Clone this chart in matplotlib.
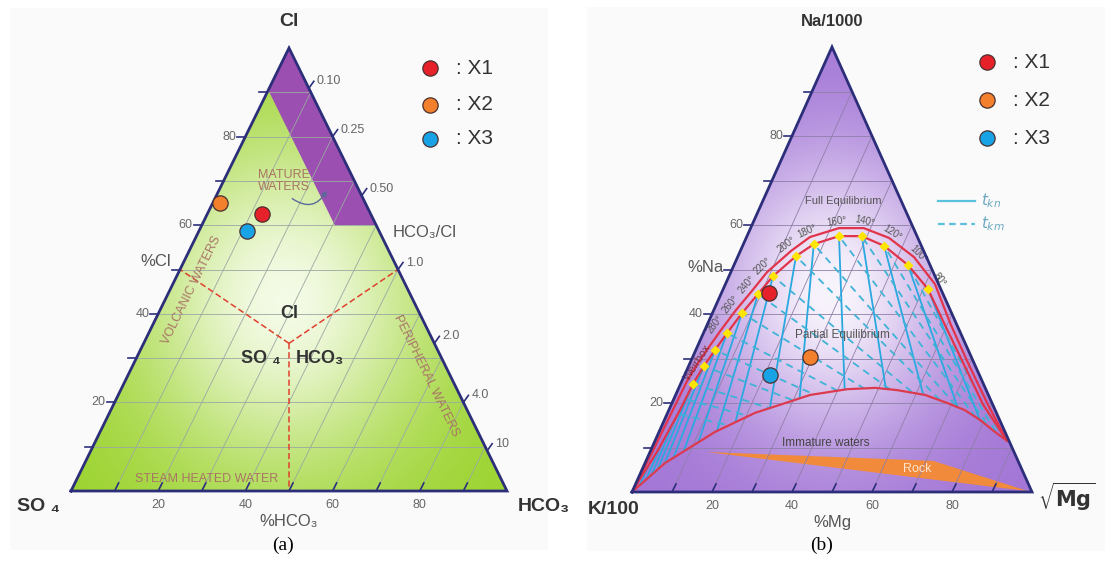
import numpy as np
import matplotlib.pyplot as plt
from matplotlib.patches import Polygon, Rectangle

W, H = 1105, 564
SANS = ['Liberation Sans', 'DejaVu Sans']

# samples shown on both diagrams
sample_names = ['X1', 'X2', 'X3']
sample_colors = ['#e62129', '#f3802c', '#17a3e5']

# (a) Cl - SO4 - HCO3 diagram (percent)
cl_pct = [62.5, 65.0, 58.7]
hco3_pct = [12.5, 1.7, 11.0]
ratio_ticks = [0.10, 0.25, 0.50, 1.0, 2.0, 4.0, 10.0]
ratio_labels = ['0.10', '0.25', '0.50', '1.0', '2.0', '4.0', '10']
mature_cl = [100.0, 90.5, 60.0, 60.0]
mature_hco3 = [0.0, 0.0, 30.5, 40.0]

# (b) Na/1000 - K/100 - sqrt(Mg) diagram (percent)
na_pct = [44.7, 30.3, 26.3]
mg_pct = [11.9, 29.3, 21.4]
temps = [80, 100, 120, 140, 160, 180, 200, 220, 240, 260, 280, 300, 320, 340]
temp_na = [45.6, 51.0, 55.3, 57.5, 57.5, 55.7, 53.0, 48.5, 44.5, 40.2, 35.7, 31.9, 28.3, 24.3]
temp_mg = [51.2, 43.5, 35.4, 28.7, 23.0, 17.6, 14.5, 11.0, 9.25, 7.4, 5.9, 4.8, 3.8, 3.1]
full_in_na = [0, 9.4, 18.4, 24.3, 28.3, 31.9, 35.7, 40.2, 44.5, 48.5, 53.0, 55.7, 57.5,
              57.5, 55.3, 51.0, 45.6, 37.5, 29.0, 19.6, 11.5]
full_in_mg = [0, 1.8, 2.8, 3.1, 3.8, 4.8, 5.9, 7.4, 9.25, 11.0, 14.5, 17.6, 23.0,
              28.7, 35.4, 43.5, 51.2, 59.5, 68.3, 78.0, 88.0]
full_out_na = [0, 9.4, 18.4, 24.9, 29.0, 32.6, 36.4, 40.9, 45.2, 49.4, 54.2, 57.3, 59.3,
               59.3, 57.1, 52.8, 46.7, 37.5, 29.0, 19.6, 11.5]
full_out_mg = [0, 0.6, 1.0, 1.3, 2.0, 2.95, 4.05, 5.55, 7.4, 9.05, 12.7, 15.85, 22.1,
               28.3, 35.7, 44.1, 52.4, 61.0, 69.5, 79.2, 88.0]
partial_na = [0, 6.5, 13.5, 17.8, 19.6, 21.8, 23.1, 23.4, 22.9, 21.8, 20.0, 18.4, 16.2, 13.5, 11.5]
partial_mg = [0, 5.0, 14.0, 21.9, 27.2, 33.6, 42.2, 49.1, 54.8, 62.4, 68.8, 74.0, 78.9, 84.0, 88.0]
rock_na = [9.0, 7.0, 0.2]
rock_mg = [14.0, 71.8, 98.9]
extra_km_base = [1.2, 2.2, 3.1]      # more solid isotherms near the K corner
extra_kn_edge = [18.0, 21.5]          # more dashed isotherms near the K corner

FRAME = '#2d2e7a'
BROWN = '#a87565'


def xy(top, right):
    top = np.asarray(top, float) / 100
    right = np.asarray(right, float) / 100
    return right + top / 2, top


fig = plt.figure(figsize=(W / 100, H / 100), dpi=100)
bg = fig.add_axes([0, 0, 1, 1])
bg.set_xlim(0, W)
bg.set_ylim(H, 0)
bg.axis('off')
bg.add_patch(Rectangle((10, 8), 538, 542, fc='#fafafa', ec='none'))
bg.add_patch(Rectangle((587, 7), 518, 544, fc='#fafafa', ec='none'))


def tri_axes(left, base, width, height):
    ax = fig.add_axes([left / W, (H - base) / H, width / W, height / H])
    ax.set_xlim(0, 1)
    ax.set_ylim(0, 1)
    ax.axis('off')
    return ax


def shade(ax, edge, mid, cx, cy, rx, ry):
    gx, gy = np.meshgrid(np.linspace(0, 1, 300), np.linspace(0, 1, 300))
    w = np.exp(-((gx - cx) / rx) ** 2 - ((gy - cy) / ry) ** 2)[..., None]
    img = np.array(edge) / 255 * (1 - w) + np.array(mid) / 255 * w
    im = ax.imshow(img, extent=[0, 1, 0, 1], origin='lower', aspect='auto',
                   zorder=0, interpolation='bilinear')
    im.set_clip_path(Polygon([(0, 0), (1, 0), (0.5, 1)], closed=True, transform=ax.transData))
    ax.set_xlim(0, 1)
    ax.set_ylim(0, 1)


def grid(ax, color):
    for v in range(10, 100, 10):
        x, y = xy([v, v], [0, 100 - v])
        ax.plot(x, y, color=color, lw=0.6, zorder=2)
        x, y = xy([0, 100 - v], [v, v])
        ax.plot(x, y, color=color, lw=0.6, zorder=2)


def frame_ticks(ax, pw, ph):
    ax.plot([0, 1, 0.5, 0], [0, 0, 1, 0], color=FRAME, lw=2, zorder=8,
            clip_on=False, solid_joinstyle='miter')
    for v in range(10, 100, 10):
        x, y = xy(v, 0)
        ax.plot([x, x - 8 / pw], [y, y], color=FRAME, lw=1.2, clip_on=False, zorder=8)
        if v % 20 == 0:
            ax.text(x - 9 / pw, y, str(v), ha='right', va='center', fontsize=9,
                    color='#666', family=SANS)
        x, y = xy(0, v)
        ax.plot([x, x + 4 / pw], [0, 8 / ph], color=FRAME, lw=1.2, clip_on=False, zorder=8)
        if v % 20 == 0:
            ax.text(x, -14 / ph, str(v), ha='center', va='center', fontsize=9,
                    color='#666', family=SANS)


# ---------------- (a) ----------------
axA = tri_axes(71, 491, 436, 443)
pwA, phA = 436, 443
shade(axA, (155, 211, 45), (244, 251, 230), 0.49, 0.43, 0.34, 0.38)
mx, my = xy(mature_cl, mature_hco3)
axA.add_patch(Polygon(np.column_stack([mx, my]), closed=True, fc='#9b4fb0', ec='none', zorder=1))
grid(axA, '#9aa8a2')
frame_ticks(axA, pwA, phA)

for r, lab in zip(ratio_ticks, ratio_labels):
    cl = 100 / (1 + r)
    x, y = xy(cl, 100 - cl)
    dx, dy = 5 / pwA, 7 / phA
    axA.plot([x, x + dx], [y, y + dy], color=FRAME, lw=1.2, clip_on=False, zorder=8)
    axA.text(x + dx + 3 / pwA, y + dy, lab, ha='left', va='center', fontsize=9,
             color='#666', family=SANS)

cx, cy = xy(100 / 3, 100 / 3)
for end in [(50, 0), (50, 50), (0, 50)]:
    ex, ey = xy(*end)
    axA.plot([cx, ex], [cy, ey], color='#e0402e', lw=1.1, ls=(0, (4, 2)), zorder=3)

x, y = xy(cl_pct, hco3_pct)
for xi, yi, c in zip(x, y, sample_colors):
    axA.plot(xi, yi, 'o', ms=11, mfc=c, mec='#4a3030', mew=0.9, zorder=9, clip_on=False)

axA.text(0.5, 1.06, 'Cl', ha='center', va='center', fontsize=14, fontweight='bold',
         color='#333', family=SANS)
axA.text(0.5, (491 - 313) / phA, 'Cl', ha='center', va='center', fontsize=13,
         fontweight='bold', color='#333', family=SANS, zorder=5)
axA.text((261 - 71) / pwA, (491 - 358) / phA, 'SO ₄', ha='center', va='center', fontsize=13,
         fontweight='bold', color='#333', family=SANS, zorder=5)
axA.text((320 - 71) / pwA, (491 - 358) / phA, 'HCO₃', ha='center', va='center', fontsize=13,
         fontweight='bold', color='#333', family=SANS, zorder=5)
axA.text(-0.025, -0.035, 'SO ₄', ha='right', va='center', fontsize=14, fontweight='bold',
         color='#333', family=SANS)
axA.text(1.025, -0.035, 'HCO₃', ha='left', va='center', fontsize=14, fontweight='bold',
         color='#333', family=SANS)
axA.text(0.5, -0.068, '%HCO₃', ha='center', va='center', fontsize=12, color='#555', family=SANS)
axA.text((156 - 71) / pwA, (491 - 261) / phA, '%Cl', ha='center', va='center', fontsize=12,
         color='#555', family=SANS)
axA.text((425 - 71) / pwA, (491 - 233) / phA, 'HCO₃/Cl', ha='center', va='center', fontsize=12,
         color='#555', family=SANS)
axA.text((284 - 71) / pwA, (491 - 181) / phA, 'MATURE\nWATERS', ha='center', va='center',
         fontsize=9, color=BROWN, family=SANS, linespacing=1.1, zorder=5)
axA.annotate('', xy=((328 - 71) / pwA, (491 - 188) / phA), xytext=((290 - 71) / pwA, (491 - 197) / phA),
             arrowprops=dict(arrowstyle='-|>', color='#5a6a9a', lw=1,
                             connectionstyle='arc3,rad=0.6', mutation_scale=8), zorder=5)
axA.text((192 - 71) / pwA, (491 - 290) / phA, 'VOLCANIC WATERS', ha='center', va='center',
         fontsize=9, color=BROWN, rotation=63.8, family=SANS, zorder=5)
axA.text((426 - 71) / pwA, (491 - 376) / phA, 'PERIPHERAL WATERS', ha='center', va='center',
         fontsize=9, color=BROWN, rotation=-63.8, family=SANS, zorder=5)
axA.text((207 - 71) / pwA, (491 - 479) / phA, 'STEAM HEATED WATER', ha='center', va='center',
         fontsize=9, color=BROWN, family=SANS, zorder=5)

# ---------------- (b) ----------------
axB = tri_axes(632, 492, 400, 445)
pwB, phB = 400, 445
shade(axB, (163, 118, 214), (248, 244, 252), 0.5, 0.45, 0.3, 0.32)
rx, ry = xy(rock_na, rock_mg)
axB.add_patch(Polygon(np.column_stack([rx, ry]), closed=True, fc='#f28a3c', ec='none', zorder=1))
grid(axB, '#8f7fa8')

ix, iy = xy(full_in_na, full_in_mg)
px_, py_ = xy(partial_na, partial_mg)
region = Polygon(np.column_stack([np.r_[ix, px_[::-1]], np.r_[iy, py_[::-1]]]),
                 closed=True, transform=axB.transData)

tn = np.array(temp_na)
tm = np.array(temp_mg)
base_mg = list(100 * tm / (100 - tn)) + extra_km_base
for b in base_mg:
    ln, = axB.plot([0.5, b / 100], [1, 0], color='#2aa8e0', lw=1.3, zorder=4)
    ln.set_clip_path(region)
edge_na = list(100 * tn / (100 - tm)) + extra_kn_edge
for f in edge_na:
    ln, = axB.plot([f / 200, 1], [f / 100, 0], color='#3fb3d6', lw=1.3, ls=(0, (4, 3)), zorder=4)
    ln.set_clip_path(region)

axB.plot(ix, iy, color='#e2344a', lw=1.6, zorder=5)
ox, oy = xy(full_out_na, full_out_mg)
axB.plot(ox, oy, color='#e2344a', lw=1.6, zorder=5)
axB.plot(px_, py_, color='#dc3a4e', lw=1.6, zorder=5)

dx_, dy_ = xy(temp_na, temp_mg)
axB.plot(dx_, dy_, 'D', ms=5, color='#ffe600', mec='none', zorder=6)

P = axB.transData.transform(np.column_stack([dx_, dy_]))
inv = axB.transData.inverted()
for i, t in enumerate(temps):
    a = P[max(i - 1, 0)]
    b = P[min(i + 1, len(P) - 1)]
    tx, ty = (b - a) / np.hypot(*(b - a))
    nrm = np.array([ty, -tx])
    rot = np.degrees(np.arctan2(-ty, -tx))
    if t <= 280:
        q = inv.transform(P[i] + nrm * 15)
        axB.text(q[0], q[1], f'{t}°', ha='center', va='center', rotation=rot,
                 rotation_mode='anchor', fontsize=7, color='#555', family=SANS, zorder=6)
    if t == 320:
        q = inv.transform(P[i] + nrm * 7)
        axB.text(q[0], q[1], 'Weirbox', ha='center', va='center', rotation=rot,
                 rotation_mode='anchor', fontsize=8, color='#7a2f3f', family=SANS, zorder=6)

frame_ticks(axB, pwB, phB)

x, y = xy(na_pct, mg_pct)
for xi, yi, c in zip(x, y, sample_colors):
    axB.plot(xi, yi, 'o', ms=11, mfc=c, mec='#4a3030', mew=0.9, zorder=9, clip_on=False)

axB.text(0.5, 1.058, 'Na/1000', ha='center', va='center', fontsize=12, fontweight='bold',
         color='#333', family=SANS)
axB.text(-0.045, -0.04, 'K/100', ha='center', va='center', fontsize=14, fontweight='bold',
         color='#333', family=SANS)
axB.text(1.015, -0.01, r'$\sqrt{\mathbf{Mg}}$', ha='left', va='center', fontsize=15, color='#333')
axB.text(0.5, -0.068, '%Mg', ha='center', va='center', fontsize=12, color='#555', family=SANS)
axB.text((706 - 632) / pwB, (492 - 268) / phB, '%Na', ha='center', va='center', fontsize=12,
         color='#555', family=SANS)
axB.text((843 - 632) / pwB, (492 - 201) / phB, 'Full Equilibrium', ha='center', va='center',
         fontsize=8, color='#555', family=SANS, zorder=6)
axB.text((842 - 632) / pwB, (492 - 335) / phB, 'Partial Equilibrium', ha='center', va='center',
         fontsize=8.5, color='#555', family=SANS, zorder=6)
axB.text((826 - 632) / pwB, (492 - 443) / phB, 'Immature waters', ha='center', va='center',
         fontsize=8.5, color='#444', family=SANS, zorder=6)
axB.text((917 - 632) / pwB, (492 - 469) / phB, 'Rock', ha='center', va='center',
         fontsize=9, color='#fbe3cf', family=SANS, zorder=6)

# ---------------- legends and captions ----------------
for ax_x, ys in [(430, [68, 105, 139]), (987, [62, 100, 138])]:
    for yy, c, n in zip(ys, sample_colors, sample_names):
        bg.plot(ax_x, yy, 'o', ms=11, mfc=c, mec='#4a3030', mew=0.9)
        bg.text(ax_x + 26, yy, ': ' + n, ha='left', va='center', fontsize=15,
                color='#333', family=SANS)

bg.plot([938, 975], [201, 201], color='#5bc0de', lw=1.6)
bg.plot([938, 975], [224, 224], color='#5bc0de', lw=1.6, ls=(0, (3, 2)))
bg.text(981, 201, r'$t_{kn}$', ha='left', va='center', fontsize=11, color='#6aa8c0')
bg.text(981, 224, r'$t_{km}$', ha='left', va='center', fontsize=11, color='#6aa8c0')

bg.text(283, 545, '(a)', ha='center', va='center', fontsize=14, family='Liberation Serif')
bg.text(822, 545, '(b)', ha='center', va='center', fontsize=14, family='Liberation Serif')

fig.savefig('out.png', dpi=100, facecolor='white')
